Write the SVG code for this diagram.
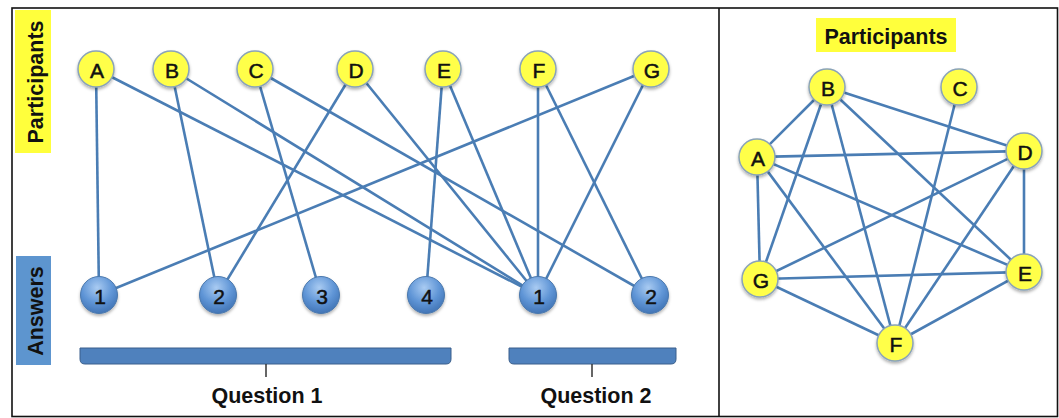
<svg xmlns="http://www.w3.org/2000/svg" width="1059" height="418" viewBox="0 0 1059 418">
<defs>
<radialGradient id="blueg" cx="0.45" cy="0.3" r="0.75">
<stop offset="0" stop-color="#a9cbf2"/>
<stop offset="0.55" stop-color="#5f95d6"/>
<stop offset="1" stop-color="#3d6fb0"/>
</radialGradient>
<filter id="sh" x="-30%" y="-30%" width="160%" height="170%">
<feDropShadow dx="0" dy="2" stdDeviation="1.5" flood-color="#000" flood-opacity="0.3"/>
</filter>
</defs>
<style>
.frame{fill:none;stroke:#111;stroke-width:1.6}
.edge{stroke:#4a7db4;stroke-width:2.6;fill:none}
.pnode{fill:#ffff4a;stroke:#8aa3b8;stroke-width:1.5}
.anode{fill:url(#blueg);stroke:#4a78ad;stroke-width:1}
.nt{font-family:"Liberation Sans",Arial,sans-serif;font-size:21px;fill:#111;stroke:#111;stroke-width:0.5;text-anchor:middle;dominant-baseline:central}
.lbl{font-family:"Liberation Sans",Arial,sans-serif;font-weight:bold;font-size:21.5px;fill:#111;text-anchor:middle}
.brace{fill:#4f81bd;stroke:#3a5f8c;stroke-width:1}
.tick{stroke:#333;stroke-width:1.5}
</style>
<rect x="0" y="0" width="1059" height="418" fill="#fff"/>
<rect class="frame" x="12" y="8" width="1045.5" height="408.5"/>
<line class="frame" x1="719" y1="8" x2="719" y2="416.5"/>

<g id="label-participants-left">
<rect x="15" y="10" width="36" height="143" fill="#ffff3c"/>
<text class="lbl" transform="translate(43,82) rotate(-90)">Participants</text>
</g>
<g id="label-answers">
<rect x="16" y="256" width="35" height="109" fill="#5d95cf"/>
<text class="lbl" transform="translate(43,311) rotate(-90)">Answers</text>
</g>

<g id="connectors-left">
<line class="edge" x1="96" y1="69" x2="99" y2="295"/>
<line class="edge" x1="96" y1="69" x2="538" y2="295"/>
<line class="edge" x1="171" y1="69" x2="218" y2="295"/>
<line class="edge" x1="171" y1="69" x2="538" y2="295"/>
<line class="edge" x1="255" y1="69" x2="321" y2="295"/>
<line class="edge" x1="255" y1="69" x2="650" y2="295"/>
<line class="edge" x1="355" y1="69" x2="218" y2="295"/>
<line class="edge" x1="355" y1="69" x2="538" y2="295"/>
<line class="edge" x1="443" y1="69" x2="426" y2="295"/>
<line class="edge" x1="443" y1="69" x2="538" y2="295"/>
<line class="edge" x1="538" y1="69" x2="538" y2="295"/>
<line class="edge" x1="538" y1="69" x2="650" y2="295"/>
<line class="edge" x1="651" y1="69" x2="99" y2="295"/>
<line class="edge" x1="651" y1="69" x2="538" y2="295"/>
</g>

<g id="pA"><circle class="pnode" cx="96" cy="69" r="18" filter="url(#sh)"/><text class="nt" x="97" y="70">A</text></g>
<g id="pB"><circle class="pnode" cx="171" cy="69" r="18" filter="url(#sh)"/><text class="nt" x="172" y="70">B</text></g>
<g id="pC"><circle class="pnode" cx="255" cy="69" r="18" filter="url(#sh)"/><text class="nt" x="256" y="70">C</text></g>
<g id="pD"><circle class="pnode" cx="355" cy="69" r="18" filter="url(#sh)"/><text class="nt" x="356" y="70">D</text></g>
<g id="pE"><circle class="pnode" cx="443" cy="69" r="18" filter="url(#sh)"/><text class="nt" x="444" y="70">E</text></g>
<g id="pF"><circle class="pnode" cx="538" cy="69" r="18" filter="url(#sh)"/><text class="nt" x="539" y="70">F</text></g>
<g id="pG"><circle class="pnode" cx="651" cy="69" r="18" filter="url(#sh)"/><text class="nt" x="652" y="70">G</text></g>

<g id="q1a1"><circle class="anode" cx="99" cy="295" r="18.5" filter="url(#sh)"/><text class="nt" x="100" y="296">1</text></g>
<g id="q1a2"><circle class="anode" cx="218" cy="295" r="18.5" filter="url(#sh)"/><text class="nt" x="219" y="296">2</text></g>
<g id="q1a3"><circle class="anode" cx="321" cy="295" r="18.5" filter="url(#sh)"/><text class="nt" x="322" y="296">3</text></g>
<g id="q1a4"><circle class="anode" cx="426" cy="295" r="18.5" filter="url(#sh)"/><text class="nt" x="427" y="296">4</text></g>
<g id="q2a1"><circle class="anode" cx="538" cy="295" r="18.5" filter="url(#sh)"/><text class="nt" x="539" y="296">1</text></g>
<g id="q2a2"><circle class="anode" cx="650" cy="295" r="18.5" filter="url(#sh)"/><text class="nt" x="651" y="296">2</text></g>

<g id="question1">
<path class="brace" d="M80,348 L451,348 L451,359 Q451,364 446,364 L85,364 Q80,364 80,359 Z"/>
<line class="tick" x1="266" y1="364" x2="266" y2="377"/>
<text class="lbl" x="267" y="403">Question 1</text>
</g>
<g id="question2">
<path class="brace" d="M509,348 L676,348 L676,359 Q676,364 671,364 L514,364 Q509,364 509,359 Z"/>
<line class="tick" x1="592" y1="364" x2="592" y2="377"/>
<text class="lbl" x="596" y="403">Question 2</text>
</g>

<g id="label-participants-right">
<rect x="816" y="18" width="140" height="34" fill="#ffff3c"/>
<text class="lbl" x="886" y="43.5">Participants</text>
</g>

<g id="connectors-right">
<line class="edge" x1="827" y1="87" x2="757" y2="157"/>
<line class="edge" x1="827" y1="87" x2="760" y2="279"/>
<line class="edge" x1="827" y1="87" x2="895" y2="343"/>
<line class="edge" x1="827" y1="87" x2="1024" y2="272"/>
<line class="edge" x1="827" y1="87" x2="1024" y2="151"/>
<line class="edge" x1="959" y1="87" x2="895" y2="343"/>
<line class="edge" x1="757" y1="157" x2="1024" y2="151"/>
<line class="edge" x1="757" y1="157" x2="760" y2="279"/>
<line class="edge" x1="757" y1="157" x2="1024" y2="272"/>
<line class="edge" x1="757" y1="157" x2="895" y2="343"/>
<line class="edge" x1="1024" y1="151" x2="760" y2="279"/>
<line class="edge" x1="1024" y1="151" x2="895" y2="343"/>
<line class="edge" x1="1024" y1="151" x2="1024" y2="272"/>
<line class="edge" x1="760" y1="279" x2="1024" y2="272"/>
<line class="edge" x1="760" y1="279" x2="895" y2="343"/>
<line class="edge" x1="895" y1="343" x2="1024" y2="272"/>
</g>

<g id="rA"><circle class="pnode" cx="757" cy="157" r="18" filter="url(#sh)"/><text class="nt" x="758" y="158">A</text></g>
<g id="rB"><circle class="pnode" cx="827" cy="87" r="18" filter="url(#sh)"/><text class="nt" x="828" y="88">B</text></g>
<g id="rC"><circle class="pnode" cx="959" cy="87" r="18" filter="url(#sh)"/><text class="nt" x="960" y="88">C</text></g>
<g id="rD"><circle class="pnode" cx="1024" cy="151" r="18" filter="url(#sh)"/><text class="nt" x="1025" y="152">D</text></g>
<g id="rE"><circle class="pnode" cx="1024" cy="272" r="18" filter="url(#sh)"/><text class="nt" x="1025" y="273">E</text></g>
<g id="rF"><circle class="pnode" cx="895" cy="343" r="18" filter="url(#sh)"/><text class="nt" x="896" y="344">F</text></g>
<g id="rG"><circle class="pnode" cx="760" cy="279" r="18" filter="url(#sh)"/><text class="nt" x="761" y="280">G</text></g>
</svg>
